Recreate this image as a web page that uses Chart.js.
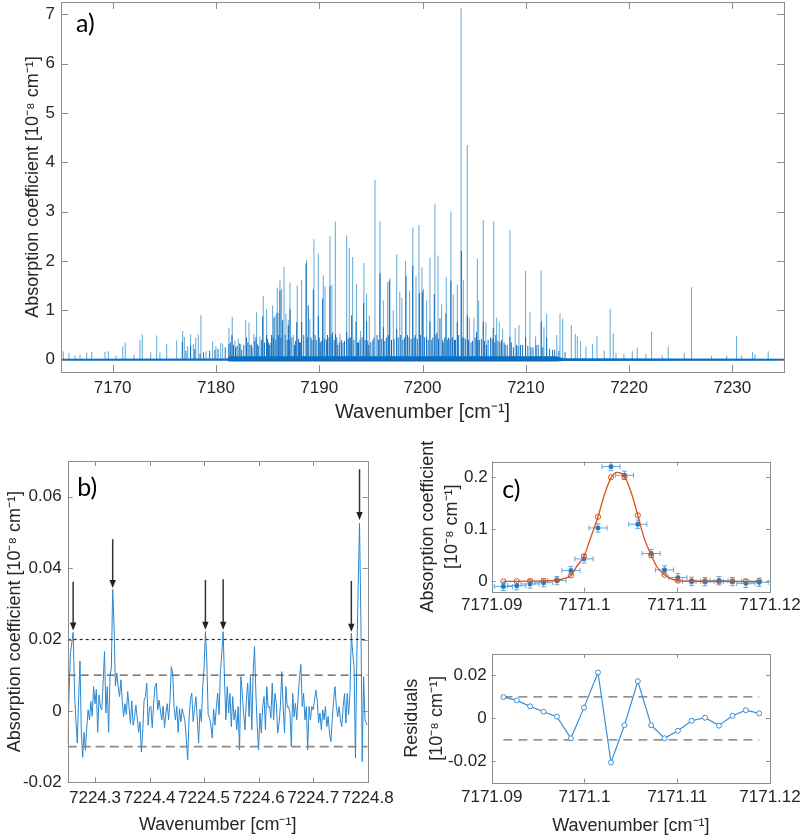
<!DOCTYPE html>
<html>
<head>
<meta charset="utf-8">
<script src="https://cdn.jsdelivr.net/npm/chart.js@4.4.1/dist/chart.umd.min.js"></script>
<style>
html, body { margin: 0; padding: 0; background: #fff; width: 800px; height: 837px; overflow: hidden; }
canvas { position: absolute; }
</style>
</head>
<body>
<canvas id="chartA" width="800" height="440" style="left:0px;top:0px"></canvas>
<canvas id="chartB" width="400" height="397" style="left:0px;top:440px"></canvas>
<canvas id="chartC" width="400" height="210" style="left:400px;top:430px"></canvas>
<canvas id="chartR" width="400" height="197" style="left:400px;top:640px"></canvas>
<script>
// ---------- a) survey spectrum: line positions and peak heights ----------
const aPeakPos = [
  7165.22, 7165.77, 7166.36, 7166.84, 7167.49, 7167.97, 7169.26, 7169.58, 7170.32, 7170.97,
  7171.22, 7172.07, 7172.65, 7172.87, 7173.68, 7174.26, 7174.58, 7175.23, 7176.20, 7176.78,
  7176.94, 7177.26, 7177.55, 7177.81, 7178.04, 7178.29, 7178.55, 7179.04, 7179.68, 7180.00,
  7180.46, 7180.65, 7181.26, 7181.58, 7181.84, 7182.16, 7182.40, 7182.88, 7183.20, 7183.52,
  7183.68, 7183.94, 7184.26, 7184.58, 7184.91, 7185.30, 7185.49, 7185.72, 7185.94, 7186.10,
  7186.20, 7186.36, 7186.59, 7186.78, 7187.00, 7187.17, 7187.49, 7187.87, 7188.30, 7188.78,
  7189.10, 7189.49, 7189.91, 7190.39, 7190.56, 7191.04, 7191.23, 7191.56, 7192.01, 7192.66,
  7192.91, 7193.24, 7193.62, 7194.01, 7194.33, 7194.59, 7194.85, 7195.40, 7195.88, 7196.21,
  7196.63, 7196.85, 7197.17, 7197.50, 7197.80, 7198.00, 7198.36, 7198.75, 7199.07, 7199.37,
  7199.66, 7199.95, 7200.10, 7200.40, 7200.72, 7201.20, 7201.50, 7201.85, 7202.30, 7202.75,
  7202.98, 7203.37, 7203.73, 7203.95, 7204.33, 7204.53, 7204.98, 7205.31, 7205.44, 7205.88,
  7206.14, 7206.90, 7207.18, 7207.43, 7207.76, 7208.47, 7208.97, 7209.34, 7209.98, 7210.40,
  7210.95, 7211.48, 7211.76, 7212.02, 7213.00, 7213.31, 7213.57, 7214.41, 7214.79, 7214.99,
  7215.31, 7215.82, 7216.47, 7216.89, 7217.59, 7218.17, 7218.47, 7218.73, 7219.50, 7220.31,
  7220.79, 7221.63, 7222.18, 7223.21, 7223.79, 7225.34, 7226.05, 7227.99, 7229.44, 7230.41,
  7230.90, 7231.96, 7232.18, 7233.47
];
const aPeakHeight = [
  0.17, 0.14, 0.09, 0.10, 0.14, 0.16, 0.16, 0.17, 0.08, 0.27,
  0.35, 0.10, 0.40, 0.51, 0.15, 0.49, 0.15, 0.32, 0.39, 0.58,
  0.46, 0.27, 0.51, 0.31, 0.44, 0.51, 0.90, 0.17, 0.37, 0.27,
  0.34, 0.32, 0.64, 0.87, 0.39, 0.43, 0.31, 0.81, 0.75, 0.24,
  0.52, 0.96, 0.47, 1.29, 1.03, 0.34, 1.10, 0.90, 1.46, 0.95,
  1.61, 1.44, 1.88, 0.94, 0.81, 1.56, 0.50, 1.50, 1.62, 2.02,
  0.82, 2.44, 2.15, 1.71, 1.49, 2.50, 1.52, 2.80, 0.53, 2.52,
  2.27, 2.08, 1.54, 0.58, 1.96, 1.34, 0.90, 3.64, 2.80, 1.20,
  1.57, 1.65, 1.00, 2.13, 1.38, 1.25, 2.00, 1.40, 2.68, 1.70,
  2.73, 1.87, 1.43, 1.20, 2.06, 3.15, 2.11, 1.12, 1.68, 3.00,
  1.32, 1.52, 7.13, 1.62, 4.35, 0.85, 0.85, 2.05, 1.20, 2.83,
  0.76, 2.80, 0.85, 0.76, 0.63, 2.63, 0.64, 0.70, 1.80, 0.96,
  0.47, 1.81, 0.66, 0.93, 0.50, 0.93, 0.83, 0.70, 0.52, 0.47,
  0.37, 0.27, 0.32, 0.48, 0.18, 1.03, 0.53, 0.14, 0.12, 0.17,
  0.24, 0.12, 0.57, 0.09, 0.27, 0.14, 1.47, 0.08, 0.08, 0.48,
  0.08, 0.16, 0.11, 0.17
];
// darker cores of the strongest lines
const aCorePos = [
  7176.74, 7177.55, 7178.46, 7181.26, 7181.55, 7181.90, 7182.50, 7182.97, 7183.30, 7183.88,
  7184.10, 7184.53, 7184.91, 7185.10, 7185.39, 7185.62, 7185.91, 7186.20, 7186.46, 7186.90,
  7187.01, 7187.17, 7187.60, 7187.82, 7188.10, 7188.30, 7188.72, 7188.94, 7189.20, 7189.43,
  7189.70, 7189.91, 7190.10, 7190.33, 7190.80, 7191.04, 7191.30, 7191.59, 7191.80, 7192.30,
  7192.66, 7192.90, 7193.14, 7193.56, 7193.80, 7194.30, 7194.59, 7194.80, 7195.20, 7195.60,
  7195.88, 7196.21, 7196.50, 7196.79, 7197.00, 7197.50, 7197.90, 7198.40, 7198.70, 7199.05,
  7199.30, 7199.69, 7199.98, 7200.40, 7200.72, 7200.90, 7201.14, 7201.40, 7201.69, 7202.00,
  7202.27, 7202.50, 7202.75, 7203.10, 7203.37, 7203.76, 7204.00, 7204.34, 7204.70, 7205.24,
  7205.50, 7205.88, 7206.20, 7206.60, 7206.85, 7207.10, 7207.50, 7208.00, 7208.47, 7208.80,
  7209.50, 7209.98, 7210.50, 7211.00, 7211.50, 7212.02, 7212.60
];
const aCoreHeight = [
  0.36, 0.28, 0.12, 0.32, 0.50, 0.25, 0.20, 0.45, 0.30, 0.46,
  0.28, 0.88, 0.50, 0.35, 0.50, 0.85, 0.95, 1.40, 0.80, 0.40,
  0.70, 1.02, 0.30, 0.76, 0.35, 0.76, 1.95, 1.10, 0.45, 1.42,
  0.40, 0.88, 0.35, 1.24, 0.50, 1.49, 0.55, 0.52, 0.30, 0.35,
  0.56, 0.45, 0.90, 0.77, 0.35, 1.15, 0.77, 0.30, 0.40, 0.50,
  1.75, 0.66, 0.45, 1.60, 0.40, 0.62, 0.50, 1.70, 0.45, 1.90,
  0.50, 1.35, 1.38, 0.45, 0.77, 0.40, 1.33, 0.55, 0.84, 0.35,
  0.94, 0.45, 1.60, 0.40, 0.76, 2.20, 0.45, 0.90, 0.35, 0.56,
  0.40, 0.77, 0.30, 0.45, 0.64, 0.50, 0.35, 0.30, 0.46, 0.25,
  0.30, 0.46, 0.25, 0.30, 0.77, 0.45, 0.20
];
// weak lines that fill the dense part of the band
const aWeakPos = [
  7177.10, 7177.95, 7178.80, 7179.40, 7179.90, 7180.20, 7180.90, 7181.40, 7181.70, 7182.05,
  7182.30, 7182.70, 7183.10, 7183.45, 7183.75, 7184.00, 7184.40, 7184.70, 7185.00, 7185.20,
  7185.55, 7185.80, 7186.05, 7186.30, 7186.70, 7187.10, 7187.35, 7187.70, 7188.00, 7188.20,
  7188.50, 7188.85, 7189.30, 7189.60, 7190.00, 7190.20, 7190.50, 7190.70, 7190.95, 7191.15,
  7191.45, 7191.70, 7191.95, 7192.15, 7192.45, 7192.80, 7193.05, 7193.35, 7193.70, 7193.95,
  7194.15, 7194.45, 7194.70, 7195.00, 7195.30, 7195.75, 7196.05, 7196.35, 7196.70, 7197.25,
  7197.65, 7198.10, 7198.25, 7198.55, 7198.90, 7199.20, 7199.50, 7199.80, 7200.20, 7200.55,
  7201.00, 7201.30, 7201.55, 7201.95, 7202.15, 7202.40, 7202.65, 7202.90, 7203.20, 7203.50,
  7203.85, 7204.15, 7204.45, 7204.85, 7205.10, 7205.35, 7205.70, 7206.00, 7206.35, 7206.75,
  7207.00, 7207.30, 7207.65, 7207.90, 7208.20, 7208.60, 7209.10, 7209.25, 7209.70, 7210.20,
  7210.70, 7211.20, 7211.65, 7212.30, 7212.80, 7213.20, 7213.80
];
const aWeakHeight = [
  0.18, 0.22, 0.15, 0.18, 0.20, 0.22, 0.25, 0.35, 0.30, 0.28,
  0.33, 0.30, 0.35, 0.30, 0.38, 0.32, 0.40, 0.35, 0.42, 0.30,
  0.45, 0.40, 0.50, 0.45, 0.50, 0.40, 0.45, 0.38, 0.42, 0.35,
  0.50, 0.45, 0.40, 0.50, 0.45, 0.38, 0.42, 0.40, 0.45, 0.50,
  0.40, 0.45, 0.35, 0.40, 0.38, 0.42, 0.45, 0.40, 0.35, 0.40,
  0.45, 0.40, 0.38, 0.35, 0.45, 0.40, 0.42, 0.38, 0.50, 0.42,
  0.45, 0.40, 0.45, 0.50, 0.42, 0.45, 0.42, 0.50, 0.45, 0.40,
  0.45, 0.50, 0.42, 0.40, 0.45, 0.40, 0.42, 0.45, 0.40, 0.50,
  0.45, 0.42, 0.40, 0.38, 0.45, 0.40, 0.42, 0.38, 0.40, 0.42,
  0.35, 0.38, 0.40, 0.35, 0.30, 0.35, 0.30, 0.28, 0.30, 0.28,
  0.25, 0.30, 0.25, 0.22, 0.20, 0.18, 0.15
];
// thickness of the baseline
const aBandX = [7165, 7181.1, 7181.3, 7213.0, 7213.6, 7235];
const aBandLow = [-0.02, -0.02, -0.035, -0.035, -0.025, -0.02];
const aBandHigh = [0.02, 0.025, 0.07, 0.07, 0.03, 0.02];
const aXTicks = [7170, 7180, 7190, 7200, 7210, 7220, 7230];
const aYTicks = [0, 1, 2, 3, 4, 5, 6, 7];

// ---------- b) weak lines near 7224.5 ----------
const bStart = 7224.25, bStep = 0.0025;
const bSignal = [
  -0.009, 0.005, 0.016, 0.019, 0.022, 0.005, -0.0025, -0.009, 0.003, 0.014,
  -0.006, -0.013, -0.006, -0.011, -0.0045, 0.0003, -0.0025, 0.0026, -0.0015, 0.0068,
  0.002, 0.006, -0.006, 0.0045, 0.001, 0.0003, 0.008, 0.0166, -0.0006, 0.0068,
  -0.006, 0.0096, 0.012, 0.034, 0.0236, 0.007, 0.0106, 0.0068, 0.004, 0.0087,
  0.003, -0.0016, 0.002, -0.001, 0.0054, 0.001, -0.0035, 0.0028, -0.004, -0.0016,
  0.0016, -0.002, -0.006, -0.003, -0.0115, -0.006, 0.003, 0.004, 0.0078, -0.004,
  0.001, 0.0013, -0.0047, 0.002, 0.0068, 0.0078, 0.0003, 0.003, 0.0, -0.0025,
  0.0013, -0.0047, -0.0006, 0.002, -0.0025, 0.003, 0.0124, 0.0105, 0.001, -0.0025,
  0.0013, -0.006, 0.0006, -0.003, 0.0006, -0.001, -0.003, -0.0081, -0.0137, -0.002,
  0.003, 0.005, -0.003, 0.0005, 0.004, -0.002, -0.009, 0.0005, -0.003, 0.0068,
  0.012, 0.0222, 0.0143, -0.001, -0.002, -0.004, -0.0076, 0.0005, -0.004, 0.001,
  0.005, -0.001, 0.011, 0.016, 0.0222, 0.0087, -0.0025, 0.0068, -0.0006, 0.0049,
  -0.0044, 0.004, -0.0025, 0.0003, -0.0053, 0.0012, -0.0109, 0.0096, 0.0049, -0.0006,
  -0.0053, 0.003, 0.0078, -0.0016, 0.0096, -0.0053, 0.0106, 0.018, 0.0049, -0.0044,
  -0.0109, -0.0006, -0.0062, 0.0012, 0.004, -0.0053, 0.0068, 0.001, 0.0012, -0.002,
  0.0078, -0.0025, 0.0049, 0.0021, -0.0062, -0.0034, 0.0015, 0.011, 0.0012, -0.0062,
  0.0068, 0.001, 0.0012, -0.0006, -0.01, 0.0049, -0.0016, 0.0021, -0.0025, 0.004,
  0.0096, 0.013, 0.0012, 0.0049, -0.0025, 0.0012, -0.0109, 0.0012, -0.0025, 0.0012,
  0.0003, 0.003, 0.0058, 0.003, -0.0034, -0.0006, -0.0053, 0.0003, -0.0025, 0.0012,
  -0.0044, -0.0016, -0.0062, -0.0086, -0.0025, 0.003, 0.0068, 0.0012, -0.0016, 0.0012,
  -0.0025, -0.0044, 0.0012, 0.0049, -0.0034, 0.0049, -0.001, 0.0049, 0.0218, 0.016,
  0.0124, -0.0132, 0.0143, 0.0348, 0.0526, 0.0255, -0.0142, 0.0096, -0.0025, -0.0034,
  -0.004
];
const bLevels = [0.02, 0.01, -0.01];
const bArrowX = [7224.26, 7224.3325, 7224.5025, 7224.535, 7224.77, 7224.785];
const bArrowTop = [0.0362, 0.0481, 0.0367, 0.0369, 0.0364, 0.0677];
const bArrowTip = [0.0225, 0.0344, 0.0227, 0.0227, 0.0222, 0.0535];
const bXTicks = [7224.3, 7224.4, 7224.5, 7224.6, 7224.7, 7224.8];
const bXLabels = ['7224.3', '7224.4', '7224.5', '7224.6', '7224.7', '7224.8'];
const bYTicks = [-0.02, 0, 0.02, 0.04, 0.06];
const bYLabels = ['-0.02', '0', '0.02', '0.04', '0.06'];

// ---------- c) single line fit and residuals ----------
const cX = [7171.09126, 7171.09270, 7171.09414, 7171.09559, 7171.09703, 7171.09854, 7171.09995,
  7171.10146, 7171.10286, 7171.10431, 7171.10575, 7171.10719, 7171.10863, 7171.11007,
  7171.11155, 7171.11300, 7171.11450, 7171.11595, 7171.11740, 7171.11883];
const cY = [-0.0099, -0.0084, -0.0051, -0.0026, 0.0013, 0.0206, 0.0432, 0.1026, 0.2206, 0.2039,
  0.1097, 0.0535, 0.0219, 0.0071, 0.0000, -0.0006, 0.0013, -0.0006, -0.0039, -0.0019];
const cFit = [0.0000, 0.0000, 0.0005, 0.0005, 0.0021, 0.0113, 0.0482, 0.1240, 0.2000, 0.2007,
  0.1270, 0.0503, 0.0126, 0.0013, 0.0001, 0.0000, 0.0000, 0.0000, 0.0000, 0.0000];
const cXErr = 0.00098, cYErr = 0.008;
const cCurveX = [7171.09126, 7171.09270, 7171.09414, 7171.09559, 7171.09703, 7171.09775, 7171.09854,
  7171.09919, 7171.09995, 7171.10063, 7171.10146, 7171.10214, 7171.10286, 7171.10351, 7171.10431,
  7171.10496, 7171.10575, 7171.10640, 7171.10719, 7171.10784, 7171.10863, 7171.10935, 7171.11007,
  7171.11155, 7171.11300, 7171.11450, 7171.11595, 7171.11740, 7171.11883];
const cCurveY = [0.0000, 0.0000, 0.0004, 0.0006, 0.0021, 0.0050, 0.0112,
  0.0290, 0.0482, 0.0820, 0.1240, 0.1660, 0.1990, 0.2095, 0.2020,
  0.1750, 0.1270, 0.0850, 0.0505, 0.0270, 0.0125, 0.0045, 0.0015,
  0.0003, 0.0001, 0.0000, 0.0000, 0.0000, 0.0000];
const cResidual = [0.0099, 0.0084, 0.0056, 0.0031, 0.0008, -0.0093, 0.0050, 0.0214, -0.0206, -0.0032,
  0.0173, -0.0032, -0.0093, -0.0058, -0.0011, 0.0003, -0.0034, 0.0012, 0.0038, 0.0023];
const rLevels = [0.01, -0.01];
const cXTicks = [7171.09, 7171.1, 7171.11, 7171.12];
const cXLabels = ['7171.09', '7171.1', '7171.11', '7171.12'];
const cYTicks = [0, 0.1, 0.2];
const cYLabels = ['0', '0.1', '0.2'];
const rYTicks = [-0.02, 0, 0.02];
const rYLabels = ['-0.02', '0', '0.02'];

const FONT = "'Liberation Sans', Arial, sans-serif";
const TEXT = '#262626';
Chart.defaults.font.family = FONT;
Chart.defaults.color = TEXT;

// axis with fixed ticks and a fixed box size so the plot areas line up with the figure
function axis(o) {
  return {
    type: 'linear', min: o.min, max: o.max, offset: false, bounds: 'data',
    grid: { display: false, drawTicks: false },
    border: { display: false },
    afterBuildTicks: s => { s.ticks = o.ticks.map(v => ({ value: v })); },
    afterFit: s => {
      if (o.width != null) { s.width = o.width; s.paddingTop = 0; s.paddingBottom = 0; }
      if (o.height != null) { s.height = o.height; s.paddingLeft = 0; s.paddingRight = 0; }
    },
    ticks: {
      autoSkip: false, maxRotation: 0, padding: o.pad, color: TEXT,
      font: { size: o.tickSize },
      callback: (v, i) => o.labels ? o.labels[i] : String(v)
    },
    title: o.title ? {
      display: true, text: o.title, color: TEXT,
      font: { size: o.titleSize, lineHeight: o.titleLH || 1.2 },
      padding: o.titlePad
    } : { display: false }
  };
}

// grey box with inward ticks on all four sides, plus the panel letter
const matlabBox = {
  id: 'matlabBox',
  afterDraw(chart, args, opts) {
    const { ctx, chartArea: a, scales } = chart;
    const len = opts.tickLen;
    ctx.save();
    ctx.strokeStyle = '#8c8c8c';
    ctx.lineWidth = 1;
    ctx.beginPath();
    scales.x.ticks.forEach(t => {
      const px = Math.round(scales.x.getPixelForValue(t.value)) + 0.5;
      ctx.moveTo(px, a.bottom); ctx.lineTo(px, a.bottom - len);
      ctx.moveTo(px, a.top); ctx.lineTo(px, a.top + len);
    });
    scales.y.ticks.forEach(t => {
      const py = Math.round(scales.y.getPixelForValue(t.value)) + 0.5;
      ctx.moveTo(a.left, py); ctx.lineTo(a.left + len, py);
      ctx.moveTo(a.right, py); ctx.lineTo(a.right - len, py);
    });
    ctx.stroke();
    ctx.strokeRect(Math.round(a.left) + 0.5, Math.round(a.top) + 0.5,
      Math.round(a.right - a.left), Math.round(a.bottom - a.top));
    if (opts.label) {
      ctx.fillStyle = '#000';
      ctx.font = '25px Lato, sans-serif';
      ctx.textBaseline = 'alphabetic';
      ctx.fillText(opts.label, a.left + opts.dx, a.top + opts.dy);
    }
    ctx.restore();
  }
};

function sticks(pos, height) {
  const pts = [];
  pos.forEach((x, i) => { pts.push({ x: x, y: 0 }, { x: x, y: height[i] }, { x: x, y: null }); });
  return pts;
}
function xy(xs, ys) { return xs.map((x, i) => ({ x: x, y: ys[i] })); }

const base = {
  responsive: false, animation: false, devicePixelRatio: 1,
  plugins: { legend: { display: false }, tooltip: { enabled: false } }
};

// ---------- chart a ----------
new Chart(document.getElementById('chartA'), {
  type: 'line',
  data: {
    datasets: [
      { data: sticks(aCorePos, aCoreHeight), borderColor: '#0b6cbf', borderWidth: 1, pointRadius: 0, order: 1 },
      { data: sticks(aWeakPos, aWeakHeight), borderColor: '#1873c3', borderWidth: 1, pointRadius: 0, order: 2 },
      { data: sticks(aPeakPos, aPeakHeight), borderColor: 'rgba(0,114,189,0.62)', borderWidth: 1, pointRadius: 0, order: 3 },
      { data: xy(aBandX, aBandLow), borderWidth: 0, pointRadius: 0, fill: false, order: 5 },
      { data: xy(aBandX, aBandHigh), borderWidth: 0, pointRadius: 0, fill: '-1', backgroundColor: '#0d6ebf', order: 4 }
    ]
  },
  options: Object.assign({}, base, {
    layout: { padding: { top: 2, right: 16, left: 0, bottom: 0 } },
    scales: {
      x: axis({ min: 7165, max: 7235, ticks: aXTicks, height: 68, pad: 6, tickSize: 17,
        title: 'Wavenumber [cm\u207B\u00B9]', titleSize: 20, titlePad: { top: 0, bottom: 16 } }),
      y: axis({ min: -0.25, max: 7.25, ticks: aYTicks, width: 61, pad: 6, tickSize: 17,
        title: 'Absorption coefficient [10\u207B\u2078 cm\u207B\u00B9]', titleSize: 18, titlePad: { top: 22, bottom: 0 } })
    },
    plugins: Object.assign({}, base.plugins, { matlabBox: { tickLen: 7, label: 'a)', dx: 15, dy: 30 } })
  }),
  plugins: [matlabBox]
});

// ---------- chart b ----------
const bArrows = {
  id: 'bArrows',
  afterDatasetsDraw(chart) {
    const { ctx, scales: { x, y } } = chart;
    ctx.save();
    ctx.strokeStyle = '#333';
    ctx.fillStyle = '#222';
    ctx.lineWidth = 1.5;
    bArrowX.forEach((xv, i) => {
      const px = x.getPixelForValue(xv);
      const top = y.getPixelForValue(bArrowTop[i]);
      const tip = y.getPixelForValue(bArrowTip[i]);
      ctx.beginPath(); ctx.moveTo(px, top); ctx.lineTo(px, tip - 6); ctx.stroke();
      ctx.beginPath(); ctx.moveTo(px - 3.2, tip - 8); ctx.lineTo(px + 3.2, tip - 8); ctx.lineTo(px, tip); ctx.closePath(); ctx.fill();
    });
    ctx.restore();
  }
};
const bEnd = bStart + (bSignal.length - 1) * bStep;
const bTrace = bSignal.map((v, i) => ({ x: bStart + i * bStep, y: v }));
const bLineStyles = [
  { color: '#2a2a2a', dash: [3, 3], width: 1.2 },
  { color: '#555555', dash: [8, 5], width: 1.2 },
  { color: '#8a8a8a', dash: [9, 5], width: 1.6 }
];
new Chart(document.getElementById('chartB'), {
  type: 'line',
  data: {
    datasets: [
      { data: bTrace, borderColor: '#2b87d0', borderWidth: 1, pointRadius: 0, order: 5 }
    ].concat(bLevels.map((lv, i) => ({
      data: [{ x: bStart, y: lv }, { x: bEnd, y: lv }],
      borderColor: bLineStyles[i].color, borderDash: bLineStyles[i].dash,
      borderWidth: bLineStyles[i].width, pointRadius: 0, order: 1
    })))
  },
  options: Object.assign({}, base, {
    layout: { padding: { top: 21, right: 32.3, left: 0, bottom: 0 } },
    scales: {
      x: axis({ min: 7224.25, max: 7224.8, ticks: bXTicks, labels: bXLabels, height: 54.7, pad: 6, tickSize: 17,
        title: 'Wavenumber [cm\u207B\u00B9]', titleSize: 18, titlePad: { top: 0, bottom: 1 } }),
      y: axis({ min: -0.02, max: 0.07, ticks: bYTicks, labels: bYLabels, width: 67.7, pad: 6, tickSize: 17,
        title: 'Absorption coefficient [10\u207B\u2078 cm\u207B\u00B9]', titleSize: 18, titlePad: { top: 4, bottom: 0 } })
    },
    plugins: Object.assign({}, base.plugins, { matlabBox: { tickLen: 5, label: 'b)', dx: 9.5, dy: 35 } })
  }),
  plugins: [matlabBox, bArrows]
});

// ---------- chart c (fit) ----------
const errorBars = {
  id: 'errorBars',
  beforeDatasetsDraw(chart) {
    const { ctx, scales: { x, y } } = chart;
    ctx.save();
    ctx.strokeStyle = '#5ea8de';
    ctx.lineWidth = 1;
    ctx.beginPath();
    cX.forEach((xv, i) => {
      const px = x.getPixelForValue(xv), py = y.getPixelForValue(cY[i]);
      const x0 = x.getPixelForValue(xv - cXErr), x1 = x.getPixelForValue(xv + cXErr);
      const y0 = y.getPixelForValue(cY[i] - cYErr), y1 = y.getPixelForValue(cY[i] + cYErr);
      ctx.moveTo(x0, py); ctx.lineTo(x1, py);
      ctx.moveTo(px, y0); ctx.lineTo(px, y1);
      ctx.moveTo(x0, py - 2.5); ctx.lineTo(x0, py + 2.5);
      ctx.moveTo(x1, py - 2.5); ctx.lineTo(x1, py + 2.5);
      ctx.moveTo(px - 2.5, y0); ctx.lineTo(px + 2.5, y0);
      ctx.moveTo(px - 2.5, y1); ctx.lineTo(px + 2.5, y1);
    });
    ctx.stroke();
    ctx.restore();
  }
};
new Chart(document.getElementById('chartC'), {
  type: 'scatter',
  data: {
    datasets: [
      { type: 'line', data: xy(cCurveX, cCurveY), borderColor: '#d95319', borderWidth: 1.3, pointRadius: 0,
        cubicInterpolationMode: 'monotone', order: 1 },
      { data: xy(cX, cFit), pointStyle: 'circle', pointRadius: 2.6, borderColor: '#d95319', borderWidth: 1,
        backgroundColor: 'rgba(255,255,255,0)', order: 0 },
      { data: xy(cX, cY), pointStyle: 'rect', pointRadius: 2.4, borderColor: '#1f78c8', backgroundColor: '#1f78c8',
        borderWidth: 1, order: 2 }
    ]
  },
  options: Object.assign({}, base, {
    layout: { padding: { top: 31.7, right: 30, left: 0, bottom: 0 } },
    scales: {
      x: axis({ min: 7171.09, max: 7171.12, ticks: cXTicks, labels: cXLabels, height: 48.3, pad: 3, tickSize: 17 }),
      y: axis({ min: -0.02, max: 0.23, ticks: cYTicks, labels: cYLabels, width: 91.7, pad: 4, tickSize: 17,
        title: ['Absorption coefficient', '[10\u207B\u2078 cm\u207B\u00B9]'], titleSize: 18, titleLH: 1.333,
        titlePad: { top: 16, bottom: 0 } })
    },
    plugins: Object.assign({}, base.plugins, { matlabBox: { tickLen: 4, label: 'c)', dx: 10.5, dy: 36 } })
  }),
  plugins: [matlabBox, errorBars]
});

// ---------- chart c (residuals) ----------
new Chart(document.getElementById('chartR'), {
  type: 'scatter',
  data: {
    datasets: [
      { data: xy(cX, cResidual), showLine: true, borderColor: '#3b8fd6', borderWidth: 1.2,
        pointRadius: 2.5, pointBorderWidth: 1, pointBackgroundColor: '#ffffff', pointBorderColor: '#3b8fd6', order: 0 }
    ].concat(rLevels.map(lv => ({
      data: [{ x: cX[0], y: lv }, { x: cX[cX.length - 1], y: lv }], showLine: true,
      borderColor: '#6e6e6e', borderDash: [9, 6], borderWidth: 1.3, pointRadius: 0, order: 1
    })))
  },
  options: Object.assign({}, base, {
    layout: { padding: { top: 14, right: 30, left: 0, bottom: 0 } },
    scales: {
      x: axis({ min: 7171.09, max: 7171.12, ticks: cXTicks, labels: cXLabels, height: 54.3, pad: 4, tickSize: 17,
        title: 'Wavenumber [cm\u207B\u00B9]', titleSize: 18, titlePad: { top: 0, bottom: 0 } }),
      y: axis({ min: -0.03, max: 0.03, ticks: rYTicks, labels: rYLabels, width: 91.7, pad: 5, tickSize: 17,
        title: ['Residuals', '[10\u207B\u2078 cm\u207B\u00B9]'], titleSize: 18, titleLH: 1.36,
        titlePad: { top: 0, bottom: 0 } })
    },
    plugins: Object.assign({}, base.plugins, { matlabBox: { tickLen: 4 } })
  }),
  plugins: [matlabBox]
});
</script>
</body>
</html>
